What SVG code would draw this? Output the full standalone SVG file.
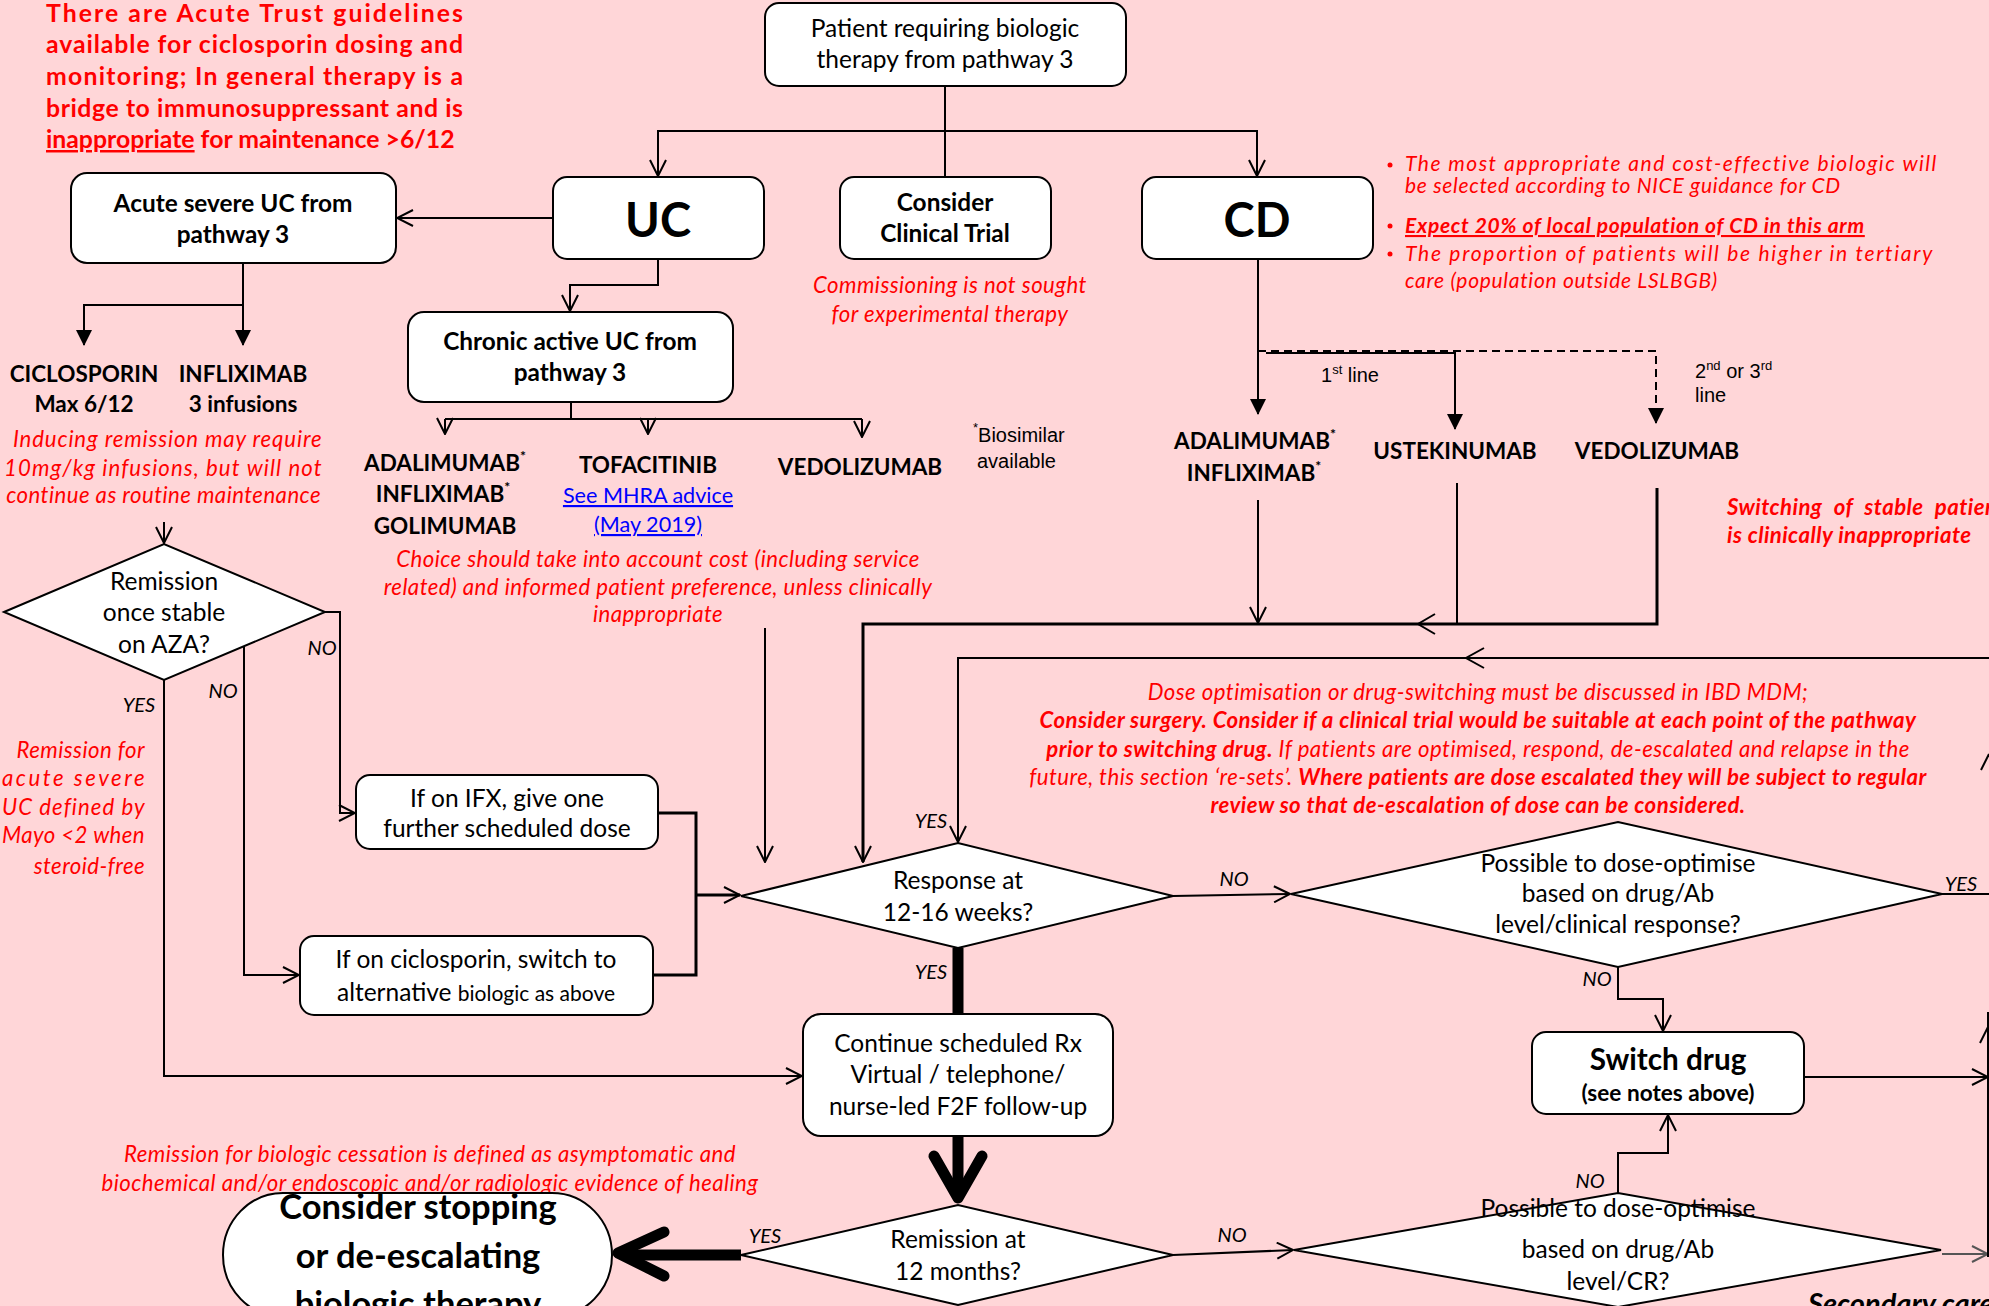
<svg xmlns="http://www.w3.org/2000/svg" width="1989" height="1306" viewBox="0 0 1989 1306">
<style>
text{font-family:Lato,'Open Sans',sans-serif;fill:#000}
.box{fill:#fff;stroke:#000;stroke-width:2}
.ln{fill:none;stroke:#000;stroke-width:2}
.thk{fill:none;stroke:#000;stroke-width:3}
.hv{fill:none;stroke:#000;stroke-width:11;stroke-linecap:butt}
.hvh{fill:none;stroke:#000;stroke-width:11;stroke-linecap:round;stroke-linejoin:round}
.dash{fill:none;stroke:#000;stroke-width:2;stroke-dasharray:8 5}
.t{font-size:24.5px}
.b{font-size:24.4px;font-weight:bold}
.d{font-size:22.5px;font-weight:bold}
.big{font-size:47px;font-weight:bold}
.red{fill:#f00;font-style:italic;font-size:22.2px;letter-spacing:0.45px}
.rpar{fill:#f00;font-weight:bold;font-size:24.8px}
.bul{fill:#f00;font-style:italic;font-size:21px;letter-spacing:0.7px}
.lab{font-style:italic;font-size:20px}
.ar{font-family:'Liberation Sans',Arial,sans-serif;font-size:20px}
.bo{font-weight:bold}
.m{text-anchor:middle}
.e{text-anchor:end}
.link{fill:#00f;text-decoration:underline;font-size:21.6px}
</style>
<defs>
<marker id="ov" viewBox="0 0 18 18" refX="17" refY="9" markerWidth="18" markerHeight="18" markerUnits="userSpaceOnUse" orient="auto"><path d="M1,1 L17,9 L1,17" fill="none" stroke="#000" stroke-width="2"/></marker>
<marker id="ovg" viewBox="0 0 18 18" refX="17" refY="9" markerWidth="18" markerHeight="18" markerUnits="userSpaceOnUse" orient="auto"><path d="M1,1 L17,9 L1,17" fill="none" stroke="#555" stroke-width="2"/></marker>
<marker id="fa" viewBox="0 0 16 16" refX="15" refY="8" markerWidth="16" markerHeight="16" markerUnits="userSpaceOnUse" orient="auto"><path d="M0,0 L16,8 L0,16 Z" fill="#000" stroke="none"/></marker>
</defs>
<rect x="0" y="0" width="1989" height="1306" fill="#FFD6D8"/>

<g id="notes">
<text class="rpar" x="46" y="22" textLength="417">There are Acute Trust guidelines</text>
<text class="rpar" x="46" y="53" textLength="417">available for ciclosporin dosing and</text>
<text class="rpar" x="46" y="85" textLength="417">monitoring; In general therapy is a</text>
<text class="rpar" x="46" y="117" textLength="417">bridge to immunosuppressant and is</text>
<text class="rpar" x="46" y="148"><tspan text-decoration="underline">inappropriate</tspan> for maintenance &gt;6/12</text>

<text class="red m" x="950" y="293">Commissioning is not sought</text>
<text class="red m" x="950" y="322">for experimental therapy</text>

<circle cx="1390" cy="165" r="2.5" fill="#f00"/>
<circle cx="1390" cy="226" r="2.5" fill="#f00"/>
<circle cx="1390" cy="254" r="2.5" fill="#f00"/>
<text class="bul" x="1405" y="171" textLength="532">The most appropriate and cost-effective biologic will</text>
<text class="bul" x="1405" y="193">be selected according to NICE guidance for CD</text>
<text class="bul bo" x="1405" y="233" text-decoration="underline">Expect 20% of local population of CD in this arm</text>
<text class="bul" x="1405" y="261" textLength="528">The proportion of patients will be higher in tertiary</text>
<text class="bul" x="1405" y="288">care (population outside LSLBGB)</text>

<text class="red e" x="322" y="447" textLength="309">Inducing remission may require</text>
<text class="red e" x="322" y="476" textLength="318">10mg/kg infusions, but will not</text>
<text class="red e" x="321" y="503">continue as routine maintenance</text>

<text class="red m" x="658" y="567">Choice should take into account cost (including service</text>
<text class="red m" x="658" y="595">related) and informed patient preference, unless clinically</text>
<text class="red m" x="658" y="622">inappropriate</text>

<text class="ar" x="973" y="442"><tspan font-size="13" dy="-10">*</tspan><tspan dy="10">Biosimilar</tspan></text>
<text class="ar" x="977" y="468">available</text>

<text class="red e" x="145" y="758">Remission for</text>
<text class="red e" x="145" y="786" textLength="143">acute severe</text>
<text class="red e" x="145" y="815" textLength="143">UC defined by</text>
<text class="red e" x="145" y="843" textLength="143">Mayo &lt;2 when</text>
<text class="red e" x="145" y="874">steroid-free</text>

<text class="red bo" x="1727" y="515" word-spacing="6">Switching of stable patients</text>
<text class="red bo" x="1727" y="543">is clinically inappropriate</text>

<text class="red m" x="1478" y="700">Dose optimisation or drug-switching must be discussed in IBD MDM;</text>
<text class="red m bo" x="1478" y="728">Consider surgery. Consider if a clinical trial would be suitable at each point of the pathway</text>
<text class="red m" x="1478" y="757"><tspan font-weight="bold">prior to switching drug.</tspan> If patients are optimised, respond, de-escalated and relapse in the</text>
<text class="red m" x="1478" y="785">future, this section ‘re-sets’. <tspan font-weight="bold">Where patients are dose escalated they will be subject to regular</tspan></text>
<text class="red m bo" x="1478" y="813">review so that de-escalation of dose can be considered.</text>

<text class="red m" x="430" y="1162">Remission for biologic cessation is defined as asymptomatic and</text>
<text class="red m" x="430" y="1191">biochemical and/or endoscopic and/or radiologic evidence of healing</text>

<text x="1808" y="1314" font-size="29" font-weight="bold" font-style="italic">Secondary care</text>
</g>

<g id="connectors">
<path class="ln" d="M945,86 V177"/>
<path class="ln" d="M945,131 H658 V176" marker-end="url(#ov)"/>
<path class="ln" d="M945,131 H1257 V176" marker-end="url(#ov)"/>
<path class="ln" d="M553,218 H397" marker-end="url(#ov)"/>
<path class="ln" d="M658,259 V285 H570 V311" marker-end="url(#ov)"/>
<path class="ln" d="M571,402 V419 M445,419 H862"/>
<path class="ln" d="M445,419 V434" marker-end="url(#ov)"/>
<path class="ln" d="M648,419 V434" marker-end="url(#ov)"/>
<path class="ln" d="M862,419 V437" marker-end="url(#ov)"/>
<path class="ln" d="M243,263 V305 H84 V345" marker-end="url(#fa)"/>
<path class="ln" d="M243,305 V345" marker-end="url(#fa)"/>
<path class="ln" d="M164,522 V543" marker-end="url(#ov)"/>
<path class="ln" d="M325,612 H340 V813 H355" marker-end="url(#ov)"/>
<path class="ln" d="M244,646 V975 H299" marker-end="url(#ov)"/>
<path class="ln" d="M164,680 V1076 H802" marker-end="url(#ov)"/>
<path class="thk" d="M658,813 H696 V975 H653"/>
<path class="thk" d="M696,895 H740" marker-end="url(#ov)"/>
<path class="ln" d="M765,628 V862" marker-end="url(#ov)"/>
<path class="ln" d="M1258,500 V623" marker-end="url(#ov)"/>
<path class="ln" d="M1457,483 V624"/>
<path class="thk" d="M1657,488 V624 H863 V862" marker-end="url(#ov)"/>
<path class="ln" d="M1435,614 L1418,624 L1435,634"/>
<path class="ln" d="M1989,658 H958 V842" marker-end="url(#ov)"/>
<path class="ln" d="M1484,648 L1466,658 L1484,668"/>
<path class="ln" d="M1173,896 L1290,894" marker-end="url(#ov)"/>
<path class="hv" d="M958,948 V1014"/>
<path class="hv" d="M958,1136 V1196"/>
<path class="hvh" d="M934,1156 L958,1198 L982,1156"/>
<path class="hv" d="M741,1255 H622"/>
<path class="hvh" d="M664,1232 L618,1253 L664,1276"/>
<path class="ln" d="M1173,1255 L1293,1250" marker-end="url(#ov)"/>
<path class="ln" d="M1618,967 V999 H1663 V1031" marker-end="url(#ov)"/>
<path class="ln" d="M1942,894 H1989"/>
<path class="ln" d="M1804,1077 H1988" marker-end="url(#ov)"/>
<path class="ln" d="M1618,1193 V1153 H1668 V1115" marker-end="url(#ov)"/>
<path d="M1942,1254 H1988" fill="none" stroke="#555" stroke-width="2" marker-end="url(#ovg)"/>
<path class="ln" d="M1988,1012 V1257"/>
<path class="ln" d="M1981,770 L1989,754"/>
<path class="ln" d="M1980,1043 L1989,1025"/>
<path class="ln" d="M1258,259 V414" marker-end="url(#fa)"/>
<path class="ln" d="M1266,353 H1455 V429" marker-end="url(#fa)"/>
<path class="dash" d="M1258,351 H1656 V423" marker-end="url(#fa)"/>
<text class="ar" x="1321" y="382">1<tspan font-size="13" dy="-8">st</tspan><tspan dy="8"> line</tspan></text>
<text class="ar" x="1695" y="378">2<tspan font-size="13" dy="-8">nd</tspan><tspan dy="8"> or 3</tspan><tspan font-size="13" dy="-8">rd</tspan></text>
<text class="ar" x="1695" y="402">line</text>
<text class="lab m" x="322" y="655">NO</text>
<text class="lab m" x="223" y="698">NO</text>
<text class="lab m" x="139" y="712">YES</text>
<text class="lab m" x="931" y="828">YES</text>
<text class="lab m" x="1234" y="886">NO</text>
<text class="lab m" x="931" y="979">YES</text>
<text class="lab m" x="765" y="1243">YES</text>
<text class="lab m" x="1232" y="1242">NO</text>
<text class="lab m" x="1597" y="986">NO</text>
<text class="lab m" x="1961" y="891">YES</text>
<text class="lab m" x="1590" y="1188">NO</text>
</g>

<g id="n_top"><rect class="box" x="765" y="3" width="361" height="83" rx="14"/>
<text class="t m" x="945" y="37">Patient requiring biologic</text>
<text class="t m" x="945" y="68">therapy from pathway 3</text></g>

<g id="n_acute"><rect class="box" x="71" y="173" width="325" height="90" rx="16"/>
<text class="b m" x="233" y="212">Acute severe UC from</text>
<text class="b m" x="233" y="243">pathway 3</text></g>

<g id="n_uc"><rect class="box" x="553" y="177" width="211" height="82" rx="14"/>
<text class="big m" x="658" y="237">UC</text></g>

<g id="n_trial"><rect class="box" x="840" y="177" width="211" height="82" rx="14"/>
<text class="b m" x="945" y="211">Consider</text>
<text class="b m" x="945" y="242">Clinical Trial</text></g>

<g id="n_cd"><rect class="box" x="1142" y="177" width="231" height="82" rx="14"/>
<text class="big m" x="1257" y="237">CD</text></g>

<g id="n_chronic"><rect class="box" x="408" y="312" width="325" height="90" rx="16"/>
<text class="b m" x="570" y="350">Chronic active UC from</text>
<text class="b m" x="570" y="381">pathway 3</text></g>

<g id="n_ciclosporin"><text class="d m" x="84" y="382">CICLOSPORIN</text>
<text class="d m" x="84" y="412">Max 6/12</text></g>
<g id="n_infliximab_acute"><text class="d m" x="243" y="382">INFLIXIMAB</text>
<text class="d m" x="243" y="412">3 infusions</text></g>

<g id="n_uc_anti_tnf"><text class="d m" x="445" y="471">ADALIMUMAB<tspan font-size="14" dy="-10">*</tspan></text>
<text class="d m" x="443" y="502">INFLIXIMAB<tspan font-size="14" dy="-10">*</tspan></text>
<text class="d m" x="445" y="534">GOLIMUMAB</text></g>
<g id="n_tofacitinib"><text class="d m" x="648" y="473">TOFACITINIB</text>
<text class="m link" x="648" y="503">See MHRA advice</text>
<text class="m link" x="648" y="532">(May 2019)</text></g>
<g id="n_vedo_uc"><text class="d m" x="860" y="475">VEDOLIZUMAB</text></g>

<g id="n_cd_anti_tnf"><text class="d m" x="1255" y="449">ADALIMUMAB<tspan font-size="14" dy="-10">*</tspan></text>
<text class="d m" x="1254" y="481">INFLIXIMAB<tspan font-size="14" dy="-10">*</tspan></text></g>
<g id="n_ustekinumab"><text class="d m" x="1455" y="459">USTEKINUMAB</text></g>
<g id="n_vedo_cd"><text class="d m" x="1657" y="459">VEDOLIZUMAB</text></g>

<g id="n_aza"><polygon class="box" points="4,612 164,544 325,612 164,680"/>
<text class="t m" x="164" y="590">Remission</text>
<text class="t m" x="164" y="621">once stable</text>
<text class="t m" x="164" y="653">on AZA?</text></g>

<g id="n_ifx"><rect class="box" x="356" y="775" width="302" height="74" rx="14"/>
<text class="t m" x="507" y="807">If on IFX, give one</text>
<text class="t m" x="507" y="837">further scheduled dose</text></g>

<g id="n_ciclo_switch"><rect class="box" x="300" y="936" width="353" height="79" rx="14"/>
<text class="t m" x="476" y="968">If on ciclosporin, switch to</text>
<text class="t m" x="476" y="1001">alternative <tspan font-size="21">biologic as above</tspan></text></g>

<g id="n_response"><polygon class="box" points="741,896 958,843 1173,896 958,948"/>
<text class="t m" x="958" y="889">Response at</text>
<text class="t m" x="958" y="921">12-16 weeks?</text></g>

<g id="n_continue"><rect class="box" x="803" y="1014" width="310" height="122" rx="18"/>
<text class="t m" x="958" y="1052">Continue scheduled Rx</text>
<text class="t m" x="958" y="1083">Virtual / telephone/</text>
<text class="t m" x="958" y="1115">nurse-led F2F follow-up</text></g>

<g id="n_remission"><polygon class="box" points="741,1255 958,1205 1173,1255 958,1305"/>
<text class="t m" x="958" y="1248">Remission at</text>
<text class="t m" x="958" y="1280">12 months?</text></g>

<g id="n_stop"><rect class="box" x="223" y="1193" width="389" height="124" rx="60" ry="62"/>
<text class="m" x="418" y="1219" font-size="34.5" font-weight="bold">Consider stopping</text>
<text class="m" x="418" y="1268" font-size="34.5" font-weight="bold">or de-escalating</text>
<text class="m" x="418" y="1316" font-size="34.5" font-weight="bold">biologic therapy</text></g>

<g id="n_dose1"><polygon class="box" points="1291,894 1618,822 1942,894 1618,967"/>
<text class="t m" x="1618" y="872">Possible to dose-optimise</text>
<text class="t m" x="1618" y="902">based on drug/Ab</text>
<text class="t m" x="1618" y="933">level/clinical response?</text></g>

<g id="n_switch"><rect class="box" x="1532" y="1032" width="272" height="82" rx="14"/>
<text class="m" x="1668" y="1070" font-size="29.7" font-weight="bold">Switch drug</text>
<text class="m" x="1668" y="1101" font-size="22.6" font-weight="bold">(see notes above)</text></g>

<g id="n_dose2"><polygon class="box" points="1294,1250 1618,1193 1941,1250 1618,1307"/>
<text class="t m" x="1618" y="1217">Possible to dose-optimise</text>
<text class="t m" x="1618" y="1258">based on drug/Ab</text>
<text class="t m" x="1618" y="1290">level/CR?</text></g>
</svg>
